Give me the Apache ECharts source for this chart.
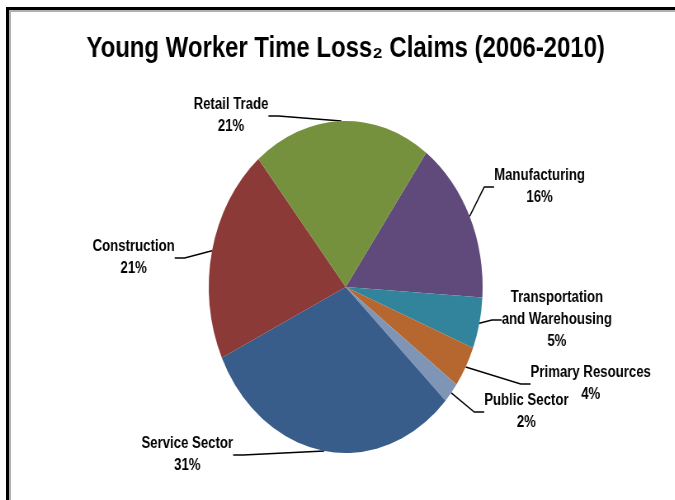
<!DOCTYPE html>
<html>
<head>
<meta charset="utf-8">
<script src="https://cdn.jsdelivr.net/npm/echarts@6/dist/echarts.min.js"></script>
<style>
  html, body { margin: 0; padding: 0; background: #fff; }
  #wrap { position: relative; width: 675px; height: 500px; overflow: hidden; background: #fff; }
  #frame { position: absolute; left: 6px; top: 7px; width: 700px; height: 520px;
           border-left: 3px solid #000; border-top: 3px solid #000; }
  #frame2 { position: absolute; left: 9px; top: 10px; width: 700px; height: 520px;
            border-left: 2px solid #b0b0b0; border-top: 2px solid #b0b0b0; }
  /* the source picture is squeezed sideways, so the whole chart is too */
  #chart { position: absolute; left: 0; top: 0; width: 838px; height: 500px;
           transform: scaleX(0.825); transform-origin: 0 0; }
</style>
</head>
<body>
<div id="wrap">
  <div id="frame"></div>
  <div id="frame2"></div>
  <div id="chart"></div>
</div>
<script>
(function() {
  var sectors = ['Manufacturing', 'Transportation\nand Warehousing', 'Primary Resources',
                 'Public Sector', 'Service Sector', 'Construction', 'Retail Trade'];
  var shares = [16, 5, 4, 2, 31, 21, 21];
  var colors = ['#5f4a7b', '#31849b', '#b5672f', '#7f95b6', '#385d8a', '#8c3a38', '#76913d'];
  // label block centres, in the chart's own (unsqueezed) pixels
  var labelX = [654, 675, 716, 638, 227, 162, 280];
  var labelY = [187, 320, 384, 412, 455, 258, 116];

  var chart = echarts.init(document.getElementById('chart'), null, { renderer: 'canvas' });

  chart.setOption({
    animation: false,
    title: {
      text: 'Young Worker Time Loss\u2082 Claims (2006-2010)',
      left: 'center',
      top: 29,
      textStyle: { fontFamily: 'Liberation Sans', fontWeight: 'bold', fontSize: 29, color: '#000' }
    },
    series: [{
      type: 'pie',
      center: [419, 287],
      radius: 166,
      startAngle: 54,
      clockwise: true,
      avoidLabelOverlap: false,
      data: sectors.map(function(name, i) {
        return { name: name, value: shares[i], itemStyle: { color: colors[i] } };
      }),
      itemStyle: { borderWidth: 0 },
      label: {
        show: true,
        position: 'outside',
        formatter: function(p) {
          return p.name.split('\n').map(function(s) { return '{t|' + s + '}'; }).join('\n') +
                 '\n{t|' + p.percent + '%}';
        },
        rich: {
          t: { align: 'center', fontFamily: 'Liberation Sans', fontWeight: 'bold',
               fontSize: 16, lineHeight: 22, color: '#000' }
        }
      },
      percentPrecision: 0,
      labelLine: { show: true, length: 12, length2: 12, lineStyle: { color: '#000', width: 1.5 } },
      labelLayout: function(p) {
        return { x: labelX[p.dataIndex], y: labelY[p.dataIndex], align: 'center', verticalAlign: 'middle' };
      }
    }]
  });
})();
</script>
</body>
</html>
